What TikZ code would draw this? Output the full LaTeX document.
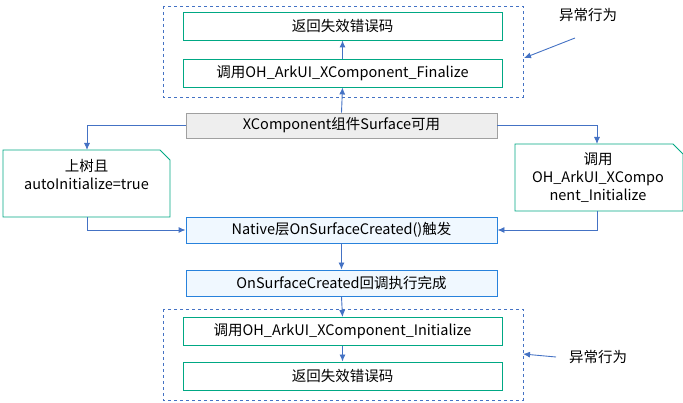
\documentclass[tikz,border=0pt]{standalone}
\usepackage{fontspec}
\setmainfont{Noto Sans CJK SC}
\usetikzlibrary{calc}
\usetikzlibrary{positioning}
\usetikzlibrary{arrows.meta}
\definecolor{step-green}{RGB}{0, 168, 132}
\definecolor{step-blue}{RGB}{40, 130, 220}
\definecolor{step-fill}{RGB}{240, 248, 255}
\definecolor{link-blue}{RGB}{68, 114, 196}
\definecolor{head-gray}{RGB}{160, 160, 160}
\definecolor{head-fill}{RGB}{238, 238, 238}
\tikzset{
  every node/.style={font=\fontsize{14.5}{18}\selectfont},
  greenbox/.style={draw=step-green, line width=0.9pt, fill=white, minimum width=319pt, minimum height=28pt, inner sep=0pt},
  bluebox/.style={draw=step-blue, line width=0.9pt, fill=step-fill, minimum width=311pt, minimum height=26pt, inner sep=0pt},
  link/.style={draw=link-blue, line width=0.9pt, -{Latex[length=7pt,width=6pt]}},
  frame/.style={draw=link-blue, line width=0.8pt, dashed}
}
\begin{document}
\begin{tikzpicture}[x=1pt, y=-1pt]
\useasboundingbox (0,0) rectangle (683,403);
% frames
\draw[frame] (163,6) rectangle (523,97);
\draw[frame] (163,309) rectangle (523,400);

\node[greenbox] (topret) at (342.5,26) {返回失效错误码};
\node[greenbox] (fin) at (342.5,73) {调用OH\_ArkUI\_XComponent\_Finalize};
\node[draw=head-gray, line width=0.9pt, fill=head-fill, minimum width=311pt, minimum height=25pt, inner sep=0pt] (avail) at (341.5,125.5) {XComponent组件Surface可用};
\node[bluebox] (native) at (341.5,230) {Native层OnSurfaceCreated()触发};
\node[bluebox] (done) at (341.5,283) {OnSurfaceCreated回调执行完成};
\node[greenbox] (init) at (342.5,331.5) {调用OH\_ArkUI\_XComponent\_Initialize};
\node[greenbox] (botret) at (342.5,376) {返回失效错误码};

% notes with folded corner
\draw[step-green, line width=0.9pt, fill=white] (3,150) -- (160,150) -- (170,160) -- (170,217) -- (3,217) -- cycle;
\node[align=center] (auto) at (86.5,175) {上树且\\autoInitialize=true};
\coordinate (autotop) at (87,150);
\coordinate (autobot) at (87,217);
\draw[step-green, line width=0.9pt, fill=white] (515,144) -- (673,144) -- (683,154) -- (683,211) -- (515,211) -- cycle;
\node[align=center] (call) at (598,178) {调用\\OH\_ArkUI\_XCompo\\nent\_Initialize};
\coordinate (calltop) at (597,144);
\coordinate (callbot) at (597,211);

% links
\draw[link] (avail.north) -- (fin.south);
\draw[link] (fin.north) -- (topret.south);
\draw[link] (avail.west) -| (autotop);
\draw[link] (avail.east) -| (calltop);
\draw[link] (autobot) |- (native.west);
\draw[link] (callbot) |- (native.east);
\draw[link] (native.south) -- (done.north);
\draw[link] (done.south) -- (init.north);
\draw[link] (init.south) -- (botret.north);

% abnormal notes
\node (abn1) at (588,15) {异常行为};
\coordinate (abn1s) at (575,38);
\coordinate (abn1e) at (524,58);
\draw[link] (abn1s) -- (abn1e);
\node (abn2) at (598,357) {异常行为};
\coordinate (abn2s) at (556,357);
\coordinate (abn2e) at (523,354);
\draw[link] (abn2s) -- (abn2e);
\end{tikzpicture}
\end{document}
